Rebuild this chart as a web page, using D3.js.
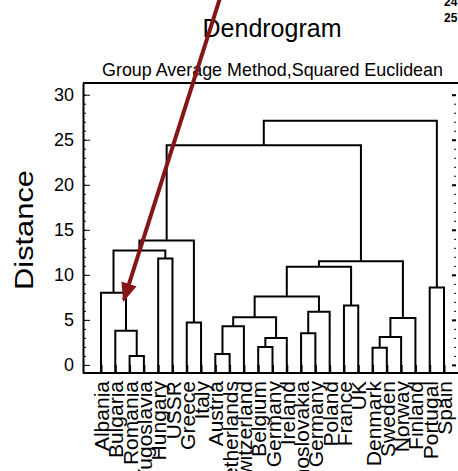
<!DOCTYPE html>
<html>
  <head>
    <meta charset="utf-8">
    <title>Dendrogram</title>
    <script src="https://cdn.jsdelivr.net/npm/d3@7"></script>
    <style>
      body { margin: 0; background: #fff; }
      svg { display: block; font-family: "Liberation Sans", Arial, sans-serif; }
      .axis path, .axis line { stroke: #000; }
      .axis text { fill: #000; font-family: "Liberation Sans", Arial, sans-serif; }
      .link { fill: none; stroke: #000; stroke-width: 2; }
    </style>
  </head>

  <body>
    <svg id="chart" width="458" height="471"></svg>

    <script>
      // leaves, left to right
      leaves = ["Albania", "Bulgaria", "Romania", "Yugoslavia", "Hungary", "USSR",
        "Greece", "Italy", "Austria", "Netherlands", "Switzerland", "Belgium",
        "W Germany", "Ireland", "Czechoslovakia", "E Germany", "Poland", "France",
        "UK", "Denmark", "Sweden", "Norway", "Finland", "Portugal", "Spain"];

      // merges: m1..m24 (left, right, distance)
      mergeLeft = ["Romania", "Austria", "Denmark", "Belgium", "m4", "m3",
        "Czechoslovakia", "Bulgaria", "m2", "Greece", "m6", "m9",
        "m7", "France", "m12", "Albania", "Portugal", "m15",
        "m18", "Hungary", "m16", "m21", "m22", "m23"];
      mergeRight = ["Yugoslavia", "Netherlands", "Sweden", "W Germany", "Ireland", "Norway",
        "E Germany", "m1", "Switzerland", "Italy", "Finland", "m5",
        "Poland", "UK", "m13", "m8", "Spain", "m14",
        "m11", "USSR", "m20", "m10", "m19", "m17"];
      mergeHeight = [1.0, 1.2, 1.9, 2.0, 3.0, 3.1,
        3.5, 3.8, 4.3, 4.7, 5.2, 5.3,
        5.9, 6.6, 7.6, 8.0, 8.6, 10.9,
        11.5, 11.8, 12.7, 13.8, 24.4, 27.1];

      yTicks = [0, 5, 10, 15, 20, 25, 30];
      yMinorTicks = d3.range(0, 31, 1);

      title = "Dendrogram";
      subtitle = "Group Average Method,Squared Euclidean";
      yTitle = "Distance";
      cornerNotes = ["24", "25"];

      // red arrow, in leaf-index / distance units
      arrowFrom = [8.3, 40.6];
      arrowTo = [1.6, 7.2];

      // layout
      chart = d3.select("#chart");
      margin = { top: 83, right: 2, bottom: 98, left: 83 };
      width = 458;
      height = 471;
      plotBottom = height - margin.bottom;
      plotRight = width - margin.right;

      x = d3.scalePoint()
        .domain(leaves)
        .range([101, 444]);
      xi = d3.scaleLinear()
        .domain([0, leaves.length - 1])
        .range(x.range());
      y = d3.scaleLinear()
        .domain([-0.9, 31.3])
        .range([plotBottom, margin.top]);

      // build tree from merge table
      nodes = {};
      leaves.forEach(d => nodes[d] = { name: d, height: 0 });
      mergeLeft.forEach((d, i) => {
        nodes["m" + (i + 1)] = {
          name: "m" + (i + 1),
          height: mergeHeight[i],
          children: [nodes[d], nodes[mergeRight[i]]]
        };
      });
      root = d3.hierarchy(nodes["m" + mergeLeft.length]);
      root.eachAfter(d => {
        d.px = d.children ? d3.mean(d.children, c => c.px) : x(d.data.name);
      });

      // frame
      chart.append("line")
        .attr("x1", margin.left).attr("x2", width)
        .attr("y1", margin.top).attr("y2", margin.top)
        .attr("stroke", "#000").attr("stroke-width", 2);

      // axes
      yAxisGroup = chart.append("g")
        .attr("class", "axis")
        .attr("transform", "translate(" + margin.left + ",0)")
        .call(d3.axisLeft(y).tickValues(yTicks).tickSize(-7).tickPadding(9).tickSizeOuter(0));
      yAxisGroup.select(".domain").attr("stroke-width", 2);
      yAxisGroup.selectAll("text").style("font-size", "18px");

      chart.append("g")
        .attr("class", "axis")
        .attr("transform", "translate(" + margin.left + ",0)")
        .call(d3.axisLeft(y).tickValues(yMinorTicks).tickSize(-3).tickFormat("").tickSizeOuter(0))
        .call(g => g.select(".domain").remove())
        .selectAll("line").attr("stroke", "#777");

      chart.append("g")
        .attr("class", "axis")
        .attr("transform", "translate(" + plotRight + ",0)")
        .call(d3.axisRight(y).tickValues(yTicks).tickSize(-4).tickFormat("").tickSizeOuter(0))
        .call(g => g.select(".domain").remove())
        .selectAll("line").attr("stroke-width", 2);

      chart.append("g")
        .attr("class", "axis")
        .attr("transform", "translate(" + plotRight + ",0)")
        .call(d3.axisRight(y).tickValues(yMinorTicks).tickSize(-2).tickFormat("").tickSizeOuter(0))
        .call(g => g.select(".domain").remove())
        .selectAll("line").attr("stroke", "#aaa");

      xAxisGroup = chart.append("g")
        .attr("class", "axis")
        .attr("transform", "translate(0," + plotBottom + ")")
        .call(d3.axisBottom(x).tickSize(-8).tickSizeOuter(0));
      xAxisGroup.select(".domain")
        .attr("d", "M" + margin.left + ",0H" + width)
        .attr("stroke-width", 2);
      xAxisGroup.selectAll("line").attr("stroke-width", 2);
      // long names run off the bottom edge, as in the original
      xAxisGroup.selectAll("text")
        .attr("transform", "rotate(-90)")
        .attr("text-anchor", "end")
        .attr("x", -8)
        .attr("y", 0)
        .attr("dy", "0.36em")
        .style("font-size", "21px");

      // dendrogram links
      chart.append("g")
        .selectAll("path")
        .data(root.descendants().filter(d => d.children))
        .join("path")
          .attr("class", "link")
          .attr("d", d => {
            let a = d.children[0], b = d.children[1];
            return "M" + a.px + "," + y(a.data.height) +
              "V" + y(d.data.height) +
              "H" + b.px +
              "V" + y(b.data.height);
          });

      chart.append("g")
        .selectAll("line")
        .data(root.leaves())
        .join("line")
          .attr("stroke", "#000")
          .attr("stroke-width", 2)
          .attr("x1", d => d.px).attr("x2", d => d.px)
          .attr("y1", y(0)).attr("y2", plotBottom);

      // titles
      chart.append("text")
        .attr("x", 272).attr("y", 37)
        .attr("text-anchor", "middle")
        .style("font-size", "25px")
        .text(title);

      chart.append("text")
        .attr("x", 102).attr("y", 76)
        .attr("textLength", 341)
        .attr("lengthAdjust", "spacingAndGlyphs")
        .style("font-size", "19px")
        .text(subtitle);

      chart.append("text")
        .attr("transform", "translate(33,290) rotate(-90)")
        .attr("textLength", 120)
        .attr("lengthAdjust", "spacingAndGlyphs")
        .style("font-size", "25px")
        .text(yTitle);

      chart.selectAll(".note")
        .data(cornerNotes)
        .join("text")
          .attr("class", "note")
          .attr("x", 444)
          .attr("y", (d, i) => 6 + i * 16)
          .style("font-size", "12px")
          .style("font-weight", "bold")
          .text(d => d);

      // arrow annotation
      defs = chart.append("defs");
      defs.append("marker")
        .attr("id", "head")
        .attr("markerUnits", "userSpaceOnUse")
        .attr("markerWidth", 20).attr("markerHeight", 18)
        .attr("refX", 17).attr("refY", 8)
        .attr("orient", "auto")
        .append("path")
          .attr("d", "M0,0L19,8L0,16Z")
          .attr("fill", "#861616");

      chart.append("line")
        .attr("x1", xi(arrowFrom[0])).attr("y1", y(arrowFrom[1]))
        .attr("x2", xi(arrowTo[0])).attr("y2", y(arrowTo[1]))
        .attr("stroke", "#861616")
        .attr("stroke-width", 4)
        .attr("marker-end", "url(#head)");
    </script>
  </body>
</html>
